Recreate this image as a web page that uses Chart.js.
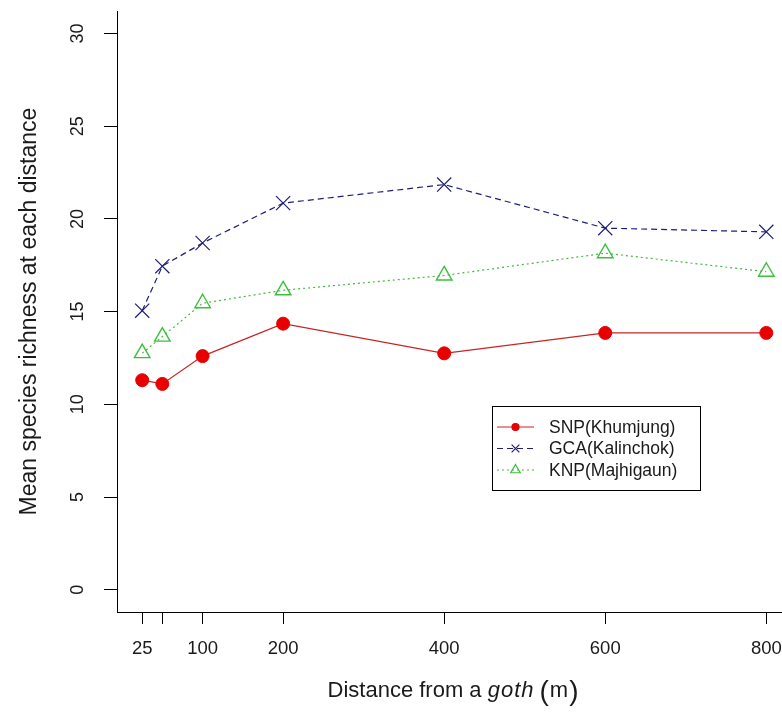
<!DOCTYPE html>
<html>
<head>
<meta charset="utf-8">
<script src="https://cdn.jsdelivr.net/npm/chart.js@4"></script>
<style>
  html, body { margin: 0; padding: 0; background: #fff; overflow: hidden; }
  /* the x axis runs off the right edge in the original, so the canvas is a bit wider than the window */
  #wrap { width: 800px; height: 716px; }
  canvas { display: block; }
</style>
</head>
<body>
<div id="wrap"><canvas id="richnessChart"></canvas></div>
<script>
// Distances (m) and mean species richness per site
const distances = [25, 50, 100, 200, 400, 600, 800];
const snpKhumjung = [11.3, 11.1, 12.6, 14.35, 12.75, 13.85, 13.85];
const gcaKalinchok = [15.05, 17.45, 18.7, 20.85, 21.85, 19.5, 19.3];
const knpMajhigaun = [12.76, 13.65, 15.45, 16.15, 16.95, 18.15, 17.15];

const xTicks = [25, 50, 100, 200, 400, 600, 800];
const xTickLabels = ['25', '', '100', '200', '400', '600', '800'];
const yTicks = [0, 5, 10, 15, 20, 25, 30];

const FONT = "'Liberation Sans', Arial, sans-serif";
const INK = '#1a1a1a';
const X_MIN = -6.3;
const PX_PER_M = 0.8053; // horizontal scale of the original plot

const toPoints = vals => vals.map((v, i) => ({ x: distances[i], y: v }));

// Legend drawn inside the plot like R's legend()
const boxLegend = {
    id: 'boxLegend',
    afterDraw(chart) {
        const ctx = chart.ctx;
        const box = { x: 492, y: 406, w: 208, h: 84 };
        ctx.save();
        ctx.fillStyle = '#fff';
        ctx.fillRect(box.x, box.y, box.w, box.h);
        ctx.strokeStyle = '#000';
        ctx.lineWidth = 1;
        ctx.strokeRect(box.x + 0.5, box.y + 0.5, box.w, box.h);

        const legendMarks = [3.5, 5.5, 5.5];
        chart.data.datasets.forEach((ds, i) => {
            const y = box.y + 21 + i * 21.5;
            ctx.strokeStyle = ds.borderColor;
            ctx.lineWidth = 1.2;
            ctx.setLineDash(ds.borderDash || []);
            ctx.beginPath();
            ctx.moveTo(box.x + 5, y);
            ctx.lineTo(box.x + 42, y);
            ctx.stroke();
            ctx.setLineDash([]);
            ctx.fillStyle = ds.pointBackgroundColor;
            ctx.strokeStyle = ds.pointBorderColor;
            ctx.lineWidth = 1.2;
            Chart.helpers.drawPoint(ctx, {
                pointStyle: ds.pointStyle, rotation: 0,
                radius: legendMarks[i], borderWidth: 1.2
            }, box.x + 23.5, y);
            ctx.fillStyle = INK;
            ctx.font = '17.5px ' + FONT;
            ctx.textBaseline = 'middle';
            ctx.textAlign = 'left';
            ctx.fillText(ds.label, box.x + 57, y + 1);
        });
        ctx.restore();
    }
};

// x axis title with the italic word, as in the R plotmath label
const xTitle = {
    id: 'xTitle',
    afterDraw(chart) {
        const ctx = chart.ctx;
        const parts = [
            { t: 'Distance from a ', f: '22px ' + FONT, ls: '0px', gap: 0 },
            { t: 'goth', f: 'italic 22px ' + FONT, ls: '1px', gap: 5 },
            { t: '(', f: '28px ' + FONT, ls: '0px', gap: 1, dy: 3 },
            { t: 'm', f: '22px ' + FONT, ls: '0px', gap: 1 },
            { t: ')', f: '28px ' + FONT, ls: '0px', gap: 0, dy: 3 }
        ];
        ctx.save();
        ctx.fillStyle = INK;
        ctx.textBaseline = 'alphabetic';
        ctx.textAlign = 'left';
        let total = 0;
        parts.forEach(p => {
            ctx.font = p.f; ctx.letterSpacing = p.ls;
            p.w = ctx.measureText(p.t).width;
            total += p.w + p.gap;
        });
        let x = 453 - total / 2;
        const base = 697;
        parts.forEach(p => {
            ctx.font = p.f; ctx.letterSpacing = p.ls;
            ctx.fillText(p.t, x, base + (p.dy || 0));
            x += p.w + p.gap;
        });
        ctx.restore();
    }
};

const chart = new Chart(document.getElementById('richnessChart'), {
    type: 'line',
    data: {
        datasets: [
            {
                label: 'SNP(Khumjung)',
                data: toPoints(snpKhumjung),
                borderColor: '#c82424',
                borderWidth: 1.2,
                pointStyle: 'circle',
                pointRadius: 6.5,
                pointBackgroundColor: '#e80000',
                pointBorderColor: '#e80000',
                pointBorderWidth: 1
            },
            {
                label: 'GCA(Kalinchok)',
                data: toPoints(gcaKalinchok),
                borderColor: '#1e1e78',
                borderWidth: 1.2,
                borderDash: [6, 4],
                pointStyle: 'crossRot',
                pointRadius: 10,
                pointBackgroundColor: '#1e1e78',
                pointBorderColor: '#1e1e78',
                pointBorderWidth: 1.2
            },
            {
                label: 'KNP(Majhigaun)',
                data: toPoints(knpMajhigaun),
                borderColor: '#44b844',
                borderWidth: 1.2,
                borderDash: [2, 3],
                pointStyle: 'triangle',
                pointRadius: 9,
                pointBackgroundColor: 'rgba(0,0,0,0)',
                pointBorderColor: '#3cc03c',
                pointBorderWidth: 1.4
            }
        ]
    },
    options: {
        responsive: true,
        maintainAspectRatio: false,
        animation: false,
        layout: { padding: { top: 10, right: 0, left: 0, bottom: 0 } },
        plugins: {
            legend: { display: false },
            tooltip: { enabled: false }
        },
        scales: {
            x: {
                type: 'linear',
                min: X_MIN,
                max: 840,
                afterBuildTicks: s => { s.ticks = xTicks.map(v => ({ value: v })); },
                afterFit: s => { s.height = 104; s.paddingLeft = 0; s.paddingRight = 0; },
                grid: { display: true, drawOnChartArea: false, drawTicks: true, tickLength: 12, color: '#000', tickWidth: 1 },
                border: { display: true, color: '#000', width: 1 },
                ticks: {
                    autoSkip: false,
                    maxRotation: 0,
                    padding: 14,
                    color: INK,
                    font: { family: FONT, size: 18.5 },
                    callback: (v) => xTickLabels[xTicks.indexOf(v)] ?? ''
                },
                title: { display: false }
            },
            y: {
                type: 'linear',
                min: -1.2,
                max: 31.2,
                afterBuildTicks: s => { s.ticks = yTicks.map(v => ({ value: v })); },
                afterFit: s => { s.width = 117; s.paddingTop = 0; s.paddingBottom = 0; },
                grid: { display: true, drawOnChartArea: false, drawTicks: true, tickLength: 13, color: '#000', tickWidth: 1 },
                border: { display: true, color: '#000', width: 1 },
                ticks: {
                    minRotation: 90,
                    maxRotation: 90,
                    crossAlign: 'center',
                    padding: 16,
                    color: INK,
                    font: { family: FONT, size: 18 },
                    callback: v => String(v)
                },
                title: {
                    display: true,
                    text: 'Mean species richness at each distance',
                    color: INK,
                    font: { family: FONT, size: 23 },
                    padding: { top: 16, bottom: 0 }
                }
            }
        }
    },
    plugins: [boxLegend, xTitle]
});

// second pass: fit the x range to the real plot width so the scale matches the original
const area = chart.chartArea;
chart.options.scales.x.max = X_MIN + (area.right - area.left) / PX_PER_M;
chart.update();
</script>
</body>
</html>
